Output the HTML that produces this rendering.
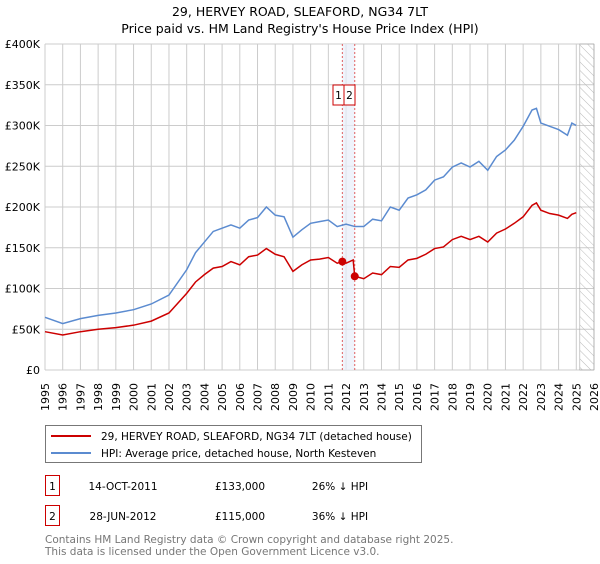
<!DOCTYPE html>
<html><head><meta charset="utf-8"><style>
body{margin:0;background:#fff;font-family:"DejaVu Sans","Liberation Sans",sans-serif;}
svg text{font-family:"DejaVu Sans","Liberation Sans",sans-serif;}
</style></head><body>
<svg id="c" width="600" height="560" xmlns="http://www.w3.org/2000/svg">
<defs><pattern id="h" width="6" height="6" patternUnits="userSpaceOnUse" patternTransform="rotate(-45)"><line x1="0" y1="0" x2="0" y2="6" stroke="#bbb" stroke-width="1"/></pattern></defs>
<text x="300" y="16" text-anchor="middle" font-size="12.5">29, HERVEY ROAD, SLEAFORD, NG34 7LT</text>
<text x="300" y="33" text-anchor="middle" font-size="12.5">Price paid vs. HM Land Registry's House Price Index (HPI)</text>
<g id="grid"></g><g id="marks"></g>
<g>
<rect x="45.5" y="425.5" width="376" height="37" fill="#fff" stroke="#777"/>
<line x1="51" y1="436" x2="91" y2="436" stroke="#cc0000" stroke-width="2"/>
<text x="101" y="440" font-size="10.5">29, HERVEY ROAD, SLEAFORD, NG34 7LT (detached house)</text>
<line x1="51" y1="453" x2="91" y2="453" stroke="#5b8bd0" stroke-width="2"/>
<text x="101" y="457" font-size="10.5">HPI: Average price, detached house, North Kesteven</text>
</g>
<g font-size="10.5">
<rect x="45.5" y="475.5" width="14" height="20" fill="none" stroke="#cc0000"/><text x="52.5" y="490" text-anchor="middle">1</text>
<text x="123" y="490" text-anchor="middle">14-OCT-2011</text><text x="240" y="490" text-anchor="middle">£133,000</text><text x="340" y="490" text-anchor="middle">26% ↓ HPI</text>
<rect x="45.5" y="505.5" width="14" height="20" fill="none" stroke="#cc0000"/><text x="52.5" y="520" text-anchor="middle">2</text>
<text x="123" y="520" text-anchor="middle">28-JUN-2012</text><text x="240" y="520" text-anchor="middle">£115,000</text><text x="340" y="520" text-anchor="middle">36% ↓ HPI</text>
</g>
<text x="45" y="543" font-size="10.5" fill="#777">Contains HM Land Registry data © Crown copyright and database right 2025.</text>
<text x="45" y="555" font-size="10.5" fill="#777">This data is licensed under the Open Government Licence v3.0.</text>
</svg>
<script>
const hpiYears=[1995,1996,1997,1998,1999,2000,2001,2002,2003,2003.5,2004,2004.5,2005,2005.5,2006,2006.5,2007,2007.5,2008,2008.5,2009,2009.5,2010,2010.5,2011,2011.5,2012,2012.5,2013,2013.5,2014,2014.5,2015,2015.5,2016,2016.5,2017,2017.5,2018,2018.5,2019,2019.5,2020,2020.5,2021,2021.5,2022,2022.5,2022.75,2023,2023.5,2024,2024.5,2024.75,2025];
const hpiValues=[64.6,57,63,67,70,74,81,92,123,144,157,170,174,178,174,184,187,200,190,188,163,172,180,182,184,176,179,176,176,185,183,200,196,211,215,221,233,237,249,254,249,256,245,262,270,282,299,319,321,303,299,295,288,303,300];
const ppYears=[1995,1996,1997,1998,1999,2000,2001,2002,2003,2003.5,2004,2004.5,2005,2005.5,2006,2006.5,2007,2007.5,2008,2008.5,2009,2009.5,2010,2010.5,2011,2011.5,2011.79,2012,2012.4,2012.49,2013,2013.5,2014,2014.5,2015,2015.5,2016,2016.5,2017,2017.5,2018,2018.5,2019,2019.5,2020,2020.5,2021,2021.5,2022,2022.5,2022.75,2023,2023.5,2024,2024.5,2024.75,2025];
const ppValues=[47,43,47,50,52,55,60,70,94,108,117,125,127,133,129,139,141,149,142,139,121,129,135,136,138,131,133,131,135,115,112,119,117,127,126,135,137,142,149,151,160,164,160,164,157,168,173,180,188,202,205,196,192,190,186,191,193];
const saleYears=[2011.79,2012.49];
const saleValues=[133,115];
const saleLabels=["1","2"];
const yTicks=[0,50,100,150,200,250,300,350,400];
const yTickLabels=["£0","£50K","£100K","£150K","£200K","£250K","£300K","£350K","£400K"];
const xTicks=[];for(let y=1995;y<=2026;y++)xTicks.push(y);
const X0=45,X1=594,Y0=370,Y1=44;
const xs=y=>X0+(y-1995)/(2026-1995)*(X1-X0);
const ys=v=>Y0-v/400*(Y0-Y1);
const NS="http://www.w3.org/2000/svg";
function mk(p,t,a){const e=document.createElementNS(NS,t);for(const k in a)e.setAttribute(k,a[k]);p.appendChild(e);return e;}
const g=document.getElementById('grid'),m=document.getElementById('marks');
const bg=mk(g,'rect',{x:X0,y:Y1,width:X1-X0,height:Y0-Y1,fill:'#fff'});


xTicks.forEach(y=>{const l=mk(g,'line',{x1:xs(y),x2:xs(y),y1:Y1,y2:Y0,stroke:'#ccc'});


const tx=xs(y)+4,ty=383;
const t=mk(g,'text',{x:tx,y:ty,'text-anchor':'end','font-size':'11',transform:'rotate(-90 '+tx+' '+ty+')'});t.textContent=y;

});
yTicks.forEach((v,i)=>{const l=mk(g,'line',{x1:X0,x2:X1,y1:ys(v),y2:ys(v),stroke:'#ccc'});


const t=mk(g,'text',{x:40,y:ys(v)+4,'text-anchor':'end','font-size':'11'});t.textContent=yTickLabels[i];

});
const hx=xs(2025.2);
const hat=mk(g,'rect',{x:hx,y:Y1,width:X1-hx,height:Y0-Y1,fill:'url(#h)',stroke:'#999','stroke-width':0.5});


const sh=mk(g,'rect',{x:xs(saleYears[0]),y:Y1,width:xs(saleYears[1])-xs(saleYears[0]),height:Y0-Y1,fill:'#e8eefa',opacity:0.7});


saleYears.forEach((y,i)=>{const l=mk(g,'line',{x1:xs(y),x2:xs(y),y1:Y1,y2:Y0,stroke:'#e06060','stroke-dasharray':'2,2'});


const r=mk(g,'rect',{x:333+i*11,y:85,width:11,height:20,fill:'#fff',stroke:'#cc0000'});


const t=mk(g,'text',{x:338.5+i*11,y:99,'text-anchor':'middle','font-size':'10.5'});t.textContent=saleLabels[i];

});
const hp=mk(m,'polyline',{points:hpiYears.map((y,i)=>xs(y)+','+ys(hpiValues[i])).join(' '),fill:'none',stroke:'#5b8bd0','stroke-width':1.5});


const pp=mk(m,'polyline',{points:ppYears.map((y,i)=>xs(y)+','+ys(ppValues[i])).join(' '),fill:'none',stroke:'#cc0000','stroke-width':1.5});


saleYears.forEach((y,i)=>{const c=mk(m,'circle',{cx:xs(y),cy:ys(saleValues[i]),r:4,fill:'#cc0000'});

});
</script>
</body></html>
